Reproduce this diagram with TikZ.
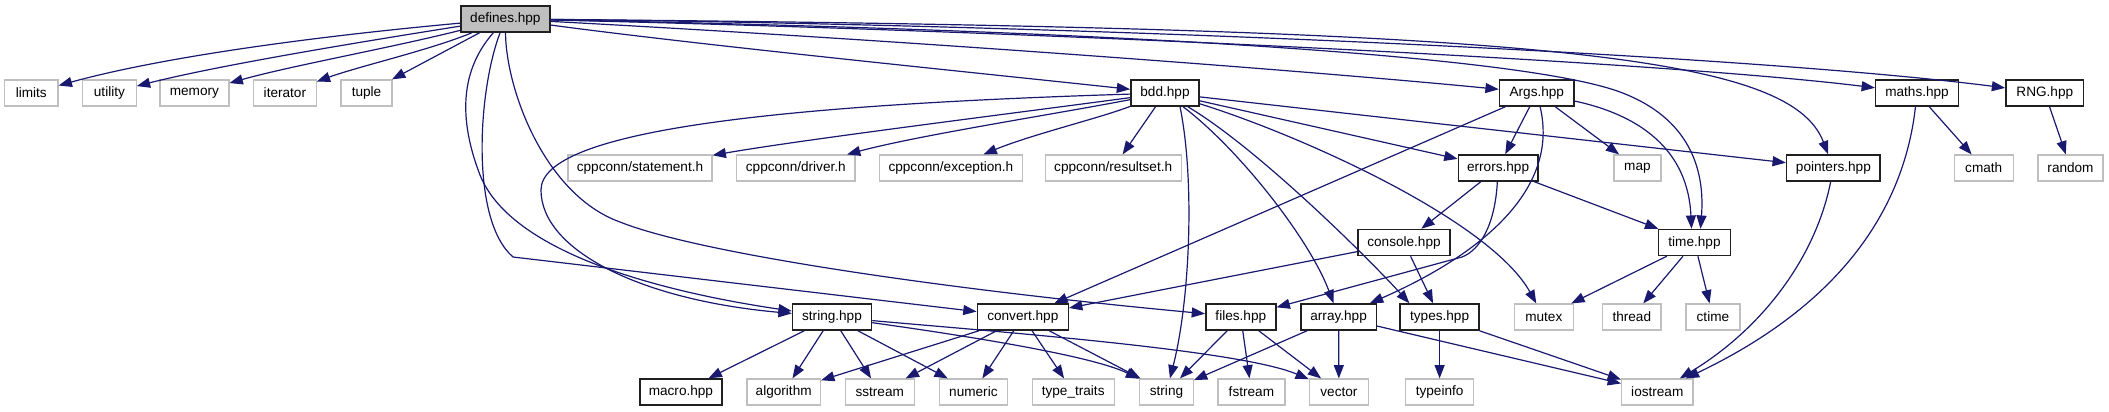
\documentclass[tikz,border=0pt]{standalone}
\usepackage{fontspec}
\setmainfont{Liberation Sans}
\usetikzlibrary{arrows.meta,calc}
\definecolor{edgecol}{HTML}{191970}
\definecolor{sysgray}{HTML}{BFBFBF}
\definecolor{prjborder}{HTML}{202020}
\begin{document}
\begin{tikzpicture}[x=0.75pt,y=-0.75pt,
  box/.style={rectangle, line width=0.9pt, fill=white, minimum height=19.5pt, inner sep=0pt, font=\fontsize{10.2pt}{12pt}\selectfont, text=black},
  prj/.style={box, draw=prjborder, line width=1.1pt},
  sys/.style={box, draw=sysgray},
  e/.style={draw=edgecol, line width=0.9pt, -{Triangle[length=10pt,width=7.5pt]}},
]
\fill[white] (0,0) rectangle (2109,411);
\useasboundingbox (0,0) rectangle (2109,411);

% row 1
\node[prj, fill=sysgray, minimum width=66.75pt] (defines) at (505.4,19) {defines.hpp};
% row 2
\node[sys, minimum width=40.1pt]  (limits)   at (31.3,93)  {limits};
\node[sys, minimum width=40.2pt]  (utility)  at (109.4,93) {utility};
\node[sys, minimum width=51.75pt] (memory)   at (194.4,93) {memory};
\node[sys, minimum width=46.9pt]  (iterator) at (284.9,93) {iterator};
\node[sys, minimum width=38.25pt] (tuple)    at (366.5,93) {tuple};
\node[prj, minimum width=51.2pt]  (bdd)      at (1165,93)  {bdd.hpp};
\node[prj, minimum width=56pt]    (args)     at (1536.8,93) {Args.hpp};
\node[prj, minimum width=62pt]    (maths)    at (1917,93)  {maths.hpp};
\node[prj, minimum width=58.35pt] (rng)      at (2044.8,93) {RNG.hpp};
% row 3
\node[sys, minimum width=108pt]   (stmt)     at (640,168)   {cppconn/statement.h};
\node[sys, minimum width=88.7pt]  (driver)   at (795.8,168) {cppconn/driver.h};
\node[sys, minimum width=107.1pt] (exc)      at (950.9,168) {cppconn/exception.h};
\node[sys, minimum width=102.15pt] (rset)    at (1113.2,168) {cppconn/resultset.h};
\node[prj, minimum width=59.7pt]  (errors)   at (1498.1,168) {errors.hpp};
\node[sys, minimum width=35.25pt] (map)      at (1637.4,168) {map};
\node[prj, minimum width=70.2pt]  (pointers) at (1833.4,168) {pointers.hpp};
\node[sys, minimum width=44.1pt]  (cmath)    at (1983.7,168) {cmath};
\node[sys, minimum width=48.75pt] (random)   at (2070.5,168) {random};
% row 4
\node[prj, minimum width=69pt]    (console)  at (1404,242.5) {console.hpp};
\node[prj, minimum width=54pt]    (time)     at (1694.5,242.5) {time.hpp};
% row 5
\node[prj, minimum width=59.25pt] (stringh)  at (832,317)    {string.hpp};
\node[prj, minimum width=68.25pt] (convert)  at (1022.8,317) {convert.hpp};
\node[prj, minimum width=52.5pt]  (files)    at (1240.8,317) {files.hpp};
\node[prj, minimum width=56.55pt] (array)    at (1338.6,317) {array.hpp};
\node[prj, minimum width=59.25pt] (types)    at (1439.6,317) {types.hpp};
\node[sys, minimum width=44.1pt]  (mutex)    at (1543.8,317) {mutex};
\node[sys, minimum width=43.7pt]  (thread)   at (1631.8,317) {thread};
\node[sys, minimum width=40.5pt]  (ctime)    at (1712.9,317) {ctime};
% row 6
\node[prj, minimum width=61.5pt]  (macro)    at (680.9,392)  {macro.hpp};
\node[sys, minimum width=55.2pt]  (algorithm) at (783.7,392) {algorithm};
\node[sys, minimum width=51.75pt] (sstream)  at (879.7,392)  {sstream};
\node[sys, minimum width=50.55pt] (numeric)  at (973.4,392)  {numeric};
\node[sys, minimum width=61.5pt]  (typetraits) at (1073.2,392) {type\_traits};
\node[sys, minimum width=40.2pt]  (string)   at (1166.5,392) {string};
\node[sys, minimum width=50.25pt] (fstream)  at (1251.4,392) {fstream};
\node[sys, minimum width=44.25pt] (vector)   at (1338.9,392) {vector};
\node[sys, minimum width=51.2pt]  (typeinfo) at (1439.6,392) {typeinfo};
\node[sys, minimum width=53.55pt] (iostream) at (1657.3,392) {iostream};

% defines.hpp
\draw[e] (defines) .. controls (330,35) and (170,55) .. (limits);
\draw[e] (defines) .. controls (360,42) and (220,65) .. (utility);
\draw[e] (defines) .. controls (390,48) and (290,66) .. (memory);
\draw[e] (defines) .. controls (430,50) and (360,66) .. (iterator);
\draw[e] (defines) -- (tuple);
\draw[e] (defines) .. controls (700,45) and (950,70) .. (bdd);
\draw[e] (defines) .. controls (900,40) and (1300,70) .. (args);
\draw[e] (defines) .. controls (1000,30) and (1650,60) .. (maths);
\draw[e] (defines) .. controls (1100,25) and (1750,55) .. (rng);
\draw[e] (defines) .. controls (1550,28) and (1790,55) .. (pointers);
\draw[e] (defines) .. controls (1100,30) and (1520,55) .. (1620,92) .. controls (1690,118) and (1705,170) .. ($(time.north)+(6,0)$);
\draw[e] (defines) .. controls (465,65) and (455,110) .. (480,175) .. controls (510,250) and (650,290) .. (stringh);
\draw[e] (defines) .. controls (478,90) and (470,220) .. (513,257) -- (convert);
\draw[e] (defines) .. controls (506,90) and (545,195) .. (620,222) .. controls (700,254) and (950,290) .. (files);

% bdd.hpp
\draw[e] (bdd) .. controls (1000,115) and (800,140) .. (stmt);
\draw[e] (bdd) .. controls (1050,115) and (920,135) .. (driver);
\draw[e] (bdd) .. controls (1100,118) and (1030,135) .. (exc);
\draw[e] (bdd) -- (rset);
\draw[e] ($(bdd.south)+(15,0)$) .. controls (1195,180) and (1190,300) .. (string);
\draw[e] (bdd) .. controls (780,105) and (541,130) .. (541,190) .. controls (541,250) and (640,300) .. (stringh);
\draw[e] (bdd) .. controls (1240,150) and (1310,240) .. (array);
\draw[e] (bdd) .. controls (1260,150) and (1370,260) .. ($(types.north west)+(10,0)$);
\draw[e] (bdd) -- (errors);
\draw[e] (bdd) -- (pointers);
\draw[e] (bdd) .. controls (1300,135) and (1490,220) .. (mutex);

% Args.hpp
\draw[e] (args) -- (errors);
\draw[e] (args) -- (map);
\draw[e] (args) .. controls (1640,115) and (1688,150) .. ($(time.north)+(-3,0)$);
\draw[e] (args) -- (convert);
\draw[e] (args) .. controls (1560,190) and (1480,255) .. (array);

% errors.hpp
\draw[e] (errors) -- (console);
\draw[e] (errors) -- (time);
\draw[e] (errors) .. controls (1495,225) and (1480,250) .. (1462,257) -- (files);

% console.hpp
\draw[e] (console) -- (convert);
\draw[e] (console) -- (types);

% time.hpp
\draw[e] (time) -- (mutex);
\draw[e] (time) -- (thread);
\draw[e] (time) -- (ctime);

% pointers, maths, RNG
\draw[e] (pointers) .. controls (1815,260) and (1760,330) .. (iostream);
\draw[e] (maths) .. controls (1905,200) and (1850,300) .. (iostream);
\draw[e] (maths) -- (cmath);
\draw[e] (rng) -- (random);

% string.hpp
\draw[e] (stringh) -- (macro);
\draw[e] (stringh) -- (algorithm);
\draw[e] (stringh) -- (sstream);
\draw[e] (stringh) -- (numeric);
\draw[e] (stringh) .. controls (960,335) and (1090,355) .. (string);
\draw[e] (stringh) .. controls (1000,332) and (1240,350) .. (vector);

% convert.hpp
\draw[e] (convert) -- (algorithm);
\draw[e] (convert) -- (sstream);
\draw[e] (convert) -- (numeric);
\draw[e] (convert) -- (typetraits);
\draw[e] (convert) -- (string);

% files.hpp
\draw[e] (files) -- (string);
\draw[e] (files) -- (fstream);
\draw[e] (files) -- (vector);

% array.hpp
\draw[e] (array) -- (string);
\draw[e] (array) -- (vector);
\draw[e] (array) -- (iostream);

% types.hpp
\draw[e] (types) -- (typeinfo);
\draw[e] (types) -- (iostream);
\end{tikzpicture}
\end{document}
